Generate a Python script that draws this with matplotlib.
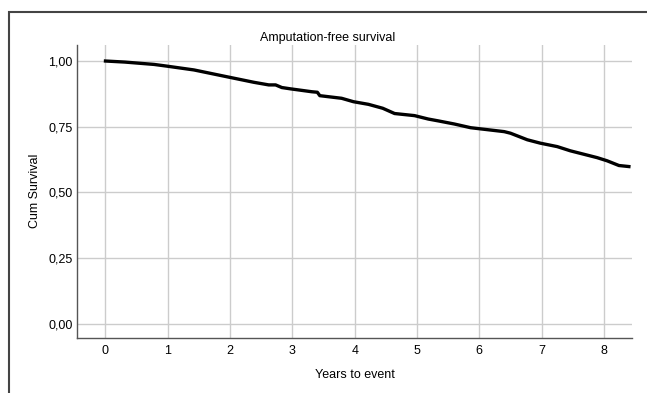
import numpy as np
import matplotlib.pyplot as plt
from matplotlib.patches import Rectangle

plt.rcParams['font.family'] = ['Liberation Sans', 'DejaVu Sans']

# Kaplan-Meier estimate
years = [0.0, 0.31, 0.78, 0.97, 1.42, 1.95, 2.38, 2.62, 2.73, 2.83, 2.97, 3.31, 3.40,
         3.44, 3.79, 3.98, 4.22, 4.45, 4.64, 4.96, 5.18, 5.34, 5.6, 5.86, 6.4, 6.5,
         6.77, 6.98, 7.25, 7.46, 7.89, 8.05, 8.24, 8.4]
survival = [1.0, 0.996, 0.987, 0.981, 0.966, 0.94, 0.919, 0.909, 0.909, 0.899, 0.894,
            0.883, 0.881, 0.868, 0.858, 0.845, 0.835, 0.82, 0.80, 0.792, 0.779, 0.772,
            0.76, 0.746, 0.731, 0.725, 0.70, 0.687, 0.674, 0.658, 0.632, 0.62, 0.602,
            0.598]

xticks = [0, 1, 2, 3, 4, 5, 6, 7, 8]
yticks = [0.0, 0.25, 0.5, 0.75, 1.0]
ytick_labels = ['0,00', '0,25', '0,50', '0,75', '1,00']

fig = plt.figure(figsize=(6.47, 3.93), dpi=100)
ax = fig.add_axes([77/647, 1 - 338/393, (632 - 77)/647, (338 - 45)/393])

ax.plot(years, survival, color='black', linewidth=2.4, solid_joinstyle='round')

ax.set_xlim(-0.457, 8.45)
ax.set_ylim(-0.055, 1.061)
ax.set_xticks(xticks)
ax.set_yticks(yticks)
ax.set_yticklabels(ytick_labels)
ax.tick_params(axis='y', length=0, labelsize=9, pad=3)
ax.tick_params(axis='x', length=0, labelsize=9, pad=5)
ax.grid(True, color='#cccccc', linewidth=1)
ax.set_axisbelow(True)

for s in ['top', 'right']:
    ax.spines[s].set_visible(False)
for s in ['left', 'bottom']:
    ax.spines[s].set_color('#555555')
    ax.spines[s].set_linewidth(1)

fig.text(327.5/647, 1 - 38/393, 'Amputation-free survival', fontsize=9,
         ha='center', va='center')
ax.set_xlabel('Years to event', fontsize=9, labelpad=9)
fig.text(35/647, 1 - 191/393, 'Cum Survival', fontsize=9, rotation=90,
         ha='center', va='center')

# outer frame
fig.patches.append(Rectangle((9/647, -0.1), 1.2, 1 - 12/393 + 0.1,
                             transform=fig.transFigure, fill=False,
                             edgecolor='#444444', linewidth=1.5))

fig.savefig('out.png', dpi=100)
